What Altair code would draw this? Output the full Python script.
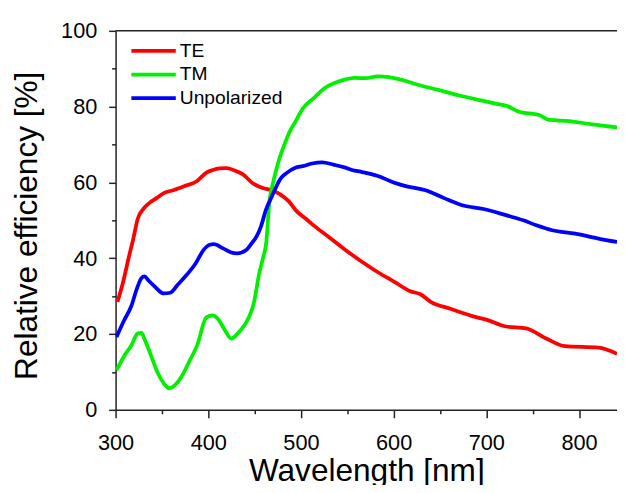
import altair as alt
import pandas as pd

FONT = "Liberation Sans"

SERIES = ["TE", "TM", "Unpolarized"]
COLORS = ["#ff0000", "#00f000", "#0000ff"]

te_wl = [302, 308, 314, 319, 324, 330, 335, 345, 352, 363, 374, 388, 398, 405, 412, 420, 428, 437,
         448, 458, 470, 478, 487, 495, 505, 515, 530, 548, 565, 583, 600, 618, 629, 640, 661, 690,
         700, 721, 743, 764, 785, 821, 841]
te_val = [28.5, 33.6, 40.0, 45.0, 50.5, 53.0, 54.3, 56.0, 57.2, 58.0, 59.0, 60.4, 62.6, 63.3, 63.7,
          63.8, 63.2, 62.2, 59.8, 58.6, 57.8, 56.8, 55.0, 52.5, 50.5, 48.4, 45.6, 42.2, 39.2, 36.3,
          33.9, 31.3, 30.5, 28.5, 26.7, 24.4, 23.8, 22.0, 21.5, 18.9, 16.8, 16.4, 14.8]

tm_wl = [301, 310, 317, 324, 328, 331, 338, 345, 352, 358, 364, 370, 380, 388, 398, 405, 412, 418,
         425, 433, 444, 449, 455, 459, 462.5, 466, 470, 473, 477, 483, 487, 494, 502, 515, 525, 537,
         548, 558, 570, 583, 595, 611, 630, 647, 670, 693, 710, 722, 736, 747, 757, 768, 789, 814, 841]
tm_val = [10.5, 14.5, 17.0, 20.2, 20.3, 18.8, 14.5, 10.0, 7.0, 5.7, 6.5, 8.3, 13.0, 17.0, 24.4,
          24.9, 23.5, 21.0, 18.8, 20.5, 24.5, 28.0, 36.0, 40.0, 44.0, 55.0, 60.0, 63.0, 66.5, 70.5,
          73.0, 76.0, 79.5, 82.5, 84.8, 86.3, 87.2, 87.6, 87.5, 88.0, 87.8, 86.9, 85.5, 84.5, 83.0,
          81.7, 80.8, 80.2, 78.6, 78.2, 77.8, 76.5, 76.2, 75.3, 74.5]

un_wl = [301, 309, 317, 323, 328, 331, 336, 342, 352, 359, 367, 377, 386, 395, 401, 406, 416, 424,
         431, 441, 447, 452, 457, 462, 468, 473, 478, 484, 494, 502, 512, 523, 535, 548, 555, 565,
         576, 583, 600, 612, 636, 655, 675, 697, 722, 740, 754, 771, 796, 821, 841]
un_val = [19.2, 23.5, 27.4, 32.0, 34.8, 35.2, 34.0, 32.6, 30.7, 30.9, 33.0, 35.7, 38.5, 42.2, 43.5,
          43.7, 42.6, 41.6, 41.3, 42.2, 44.0, 45.7, 48.5, 52.6, 56.0, 58.7, 61.0, 62.4, 63.9, 64.3,
          65.0, 65.3, 64.7, 63.9, 63.3, 62.8, 62.2, 61.7, 60.0, 59.1, 57.8, 55.8, 53.9, 53.0, 51.3,
          50.0, 48.7, 47.4, 46.5, 45.2, 44.3]

X_DOMAIN = [300, 841]
Y_DOMAIN = [0, 100]
X_MAJOR = [300, 400, 500, 600, 700, 800]
X_MINOR = [350, 450, 550, 650, 750]
Y_MAJOR = [0, 20, 40, 60, 80, 100]
Y_MINOR = [10, 30, 50, 70, 90]

rows = []
for name, wls, vals in [("TE", te_wl, te_val), ("TM", tm_wl, tm_val), ("Unpolarized", un_wl, un_val)]:
    for w, v in zip(wls, vals):
        rows.append({"Wavelength": w, "Efficiency": v, "Series": name})
df = pd.DataFrame(rows)

AXIS_COLOR = "#222222"
xscale = alt.Scale(domain=X_DOMAIN, nice=False, zero=False)
yscale = alt.Scale(domain=Y_DOMAIN, nice=False, zero=False)

x_axis = alt.Axis(
    orient="bottom", values=X_MAJOR, format="d", grid=False, labelFlush=False,
    domainColor=AXIS_COLOR, domainWidth=1.5, tickColor=AXIS_COLOR, tickWidth=1.5, tickSize=8,
    labelFont=FONT, labelFontSize=22, labelColor="black", labelPadding=15,
    title="Wavelength [nm]", titleFont=FONT, titleFontSize=32, titleFontWeight="normal",
    titleColor="black", titleX=254, titleY=72, titleBaseline="alphabetic", titleAlign="center",
)
y_axis = alt.Axis(
    orient="left", values=Y_MAJOR, format="d", grid=False, labelFlush=False,
    domainColor=AXIS_COLOR, domainWidth=1.5, tickColor=AXIS_COLOR, tickWidth=1.5, tickSize=7,
    labelFont=FONT, labelFontSize=22, labelColor="black", labelPadding=12,
    title="Relative efficiency [%]", titleFont=FONT, titleFontSize=32, titleFontWeight="normal",
    titleColor="black", titleX=-80, titleY=197, titleBaseline="alphabetic", titleAlign="center",
    titleAngle=270,
)
x_minor_axis = alt.Axis(
    orient="bottom", values=X_MINOR, labels=False, domain=False, grid=False, title=None,
    tickColor=AXIS_COLOR, tickWidth=1.5, tickSize=4,
)
y_minor_axis = alt.Axis(
    orient="left", values=Y_MINOR, labels=False, domain=False, grid=False, title=None,
    tickColor=AXIS_COLOR, tickWidth=1.5, tickSize=4,
)

lines = alt.Chart(df).mark_line(strokeWidth=3.8, interpolate="monotone", clip=True).encode(
    x=alt.X("Wavelength:Q", scale=xscale, axis=x_axis),
    y=alt.Y("Efficiency:Q", scale=yscale, axis=y_axis),
    color=alt.Color(
        "Series:N", sort=SERIES, scale=alt.Scale(domain=SERIES, range=COLORS),
        legend=alt.Legend(
            title=None, orient="none", legendX=15.5, legendY=9.3, padding=0,
            symbolType="M-2.5,0L2.5,0", symbolSize=324, symbolStrokeWidth=3.8,
            symbolOffset=12, labelOffset=15.5, rowPadding=3,
            labelFont=FONT, labelFontSize=19.5, labelColor="black", labelLimit=0,
        ),
    ),
)

frame = alt.Chart(pd.DataFrame({"k": [0]})).mark_rule(color=AXIS_COLOR, strokeWidth=1.5).encode(
    x=alt.XDatum(X_DOMAIN[0], type="quantitative", scale=xscale, axis=x_minor_axis),
    x2=alt.datum(X_DOMAIN[1]),
    y=alt.YDatum(Y_DOMAIN[1], type="quantitative", scale=yscale, axis=y_minor_axis),
)

chart = alt.layer(lines, frame).resolve_axis(x="independent", y="independent").properties(
    width=508, height=384,
    autosize=alt.AutoSizeParams(type="none"),
    padding={"left": 109, "top": 20, "right": 0, "bottom": 73},
    background="white",
).configure_view(stroke=None)

chart.save("out.html", embed_options={"renderer": "svg", "actions": False})
